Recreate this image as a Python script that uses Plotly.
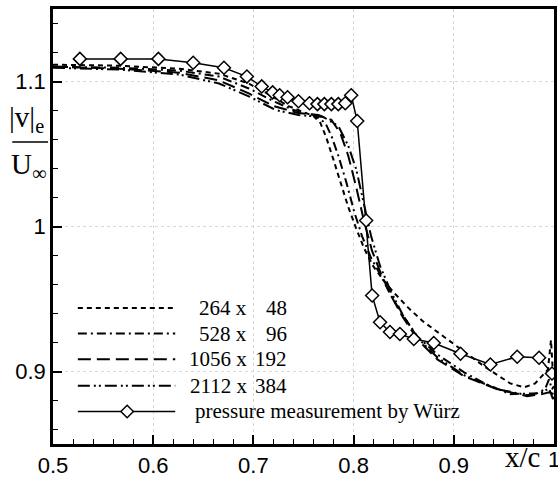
import plotly.graph_objects as go

# ---------------- data ----------------
x_264 = [0.5, 0.5665, 0.6260, 0.6657, 0.6954, 0.7153, 0.7351, 0.7500, 0.7599, 0.7669, 0.7728, 0.7798,
         0.7867, 0.7946, 0.8026, 0.8105, 0.8194, 0.8294, 0.8393, 0.8542, 0.8690, 0.8839, 0.9038, 0.9306,
         0.9563, 0.9702, 0.9812, 0.9891, 0.9940, 0.9970, 0.9990, 1.0]
y_264 = [1.1116, 1.1109, 1.1088, 1.1054, 1.0986, 1.0912, 1.0830, 1.0789, 1.0762, 1.0714, 1.0612, 1.0463,
         1.0306, 1.0136, 0.9986, 0.9850, 0.9728, 0.9633, 0.9551, 0.9442, 0.9347, 0.9272, 0.9170, 0.9034,
         0.8918, 0.8891, 0.8918, 0.8973, 0.9014, 0.9218, 0.8980, 0.8993]

x_528 = [0.5, 0.5665, 0.6260, 0.6657, 0.6954, 0.7202, 0.7401, 0.7599, 0.7718, 0.7778, 0.7847, 0.7927,
         0.8006, 0.8085, 0.8175, 0.8274, 0.8373, 0.8492, 0.8641, 0.8839, 0.9107, 0.9306, 0.9563, 0.9831,
         0.9911, 0.9950, 0.9980, 1.0]
y_528 = [1.1102, 1.1095, 1.1075, 1.1034, 1.0952, 1.0864, 1.0803, 1.0769, 1.0714, 1.0626, 1.0490, 1.0306,
         1.0102, 0.9932, 0.9782, 0.9660, 0.9524, 0.9388, 0.9238, 0.9116, 0.8993, 0.8918, 0.8844, 0.8850,
         0.8878, 0.8946, 0.8878, 0.8898]

x_1056 = [0.5, 0.5665, 0.6260, 0.6657, 0.6954, 0.7202, 0.7450, 0.7649, 0.7778, 0.7867, 0.7946, 0.8026,
          0.8105, 0.8185, 0.8274, 0.8373, 0.8492, 0.8641, 0.8839, 0.9107, 0.9435, 0.9732, 0.9881, 0.9950, 1.0]
y_1056 = [1.1102, 1.1088, 1.1061, 1.1007, 1.0918, 1.0830, 1.0782, 1.0769, 1.0735, 1.0646, 1.0490, 1.0272,
          1.0034, 0.9830, 0.9673, 0.9524, 0.9374, 0.9218, 0.9082, 0.8966, 0.8878, 0.8830, 0.8844, 0.8857, 0.8844]

x_2112 = [0.5, 0.5665, 0.6260, 0.6657, 0.6954, 0.7222, 0.7450, 0.7698, 0.7847, 0.7946, 0.8026, 0.8095,
          0.8175, 0.8264, 0.8373, 0.8492, 0.8641, 0.8839, 0.9107, 0.9435, 0.9732, 0.9881, 0.9950, 0.9990, 1.0]
y_2112 = [1.1095, 1.1082, 1.1048, 1.0986, 1.0898, 1.0803, 1.0769, 1.0755, 1.0694, 1.0558, 1.0395, 1.0170,
          0.9932, 0.9728, 0.9551, 0.9388, 0.9231, 0.9095, 0.8973, 0.8878, 0.8837, 0.8857, 0.8884, 0.8810, 0.8844]

x_exp = [0.5268, 0.5675, 0.6052, 0.6399, 0.6706, 0.6935, 0.7083, 0.7192, 0.7262, 0.7341, 0.7450, 0.7560,
         0.7639, 0.7708, 0.7778, 0.7847, 0.7917, 0.7976, 0.8036, 0.8125, 0.8185, 0.8264, 0.8363, 0.8462,
         0.8601, 0.8800, 0.9067, 0.9365, 0.9633, 0.9851, 0.9980]
y_exp = [1.1156, 1.1156, 1.1156, 1.1129, 1.1095, 1.1034, 1.0966, 1.0925, 1.0905, 1.0891, 1.0864, 1.0850,
         1.0844, 1.0844, 1.0844, 1.0844, 1.0850, 1.0905, 1.0728, 1.0041, 0.9524, 0.9340, 0.9272, 0.9259,
         0.9224, 0.9197, 0.9122, 0.9048, 0.9102, 0.9095, 0.8986]

grid_names = ["264 x", "528 x", "1056 x", "2112 x"]
grid_nums = ["48", "96", "192", "384"]
exp_label = "pressure measurement by Würz"
x_last_tick_label = "1"

# ---------------- styles ----------------
dashes = ["5px,4px", "9px,4px,2px,4px", "13px,6px", "12px,4px,2px,3px,2px,4px"]
SERIF = "Liberation Serif, Times New Roman, serif"
SANS = "Liberation Sans, Arial, sans-serif"
TICK_SIZE = 22
LEG_SIZE = 21

fig = go.Figure()
for xs, ys, d in zip([x_264, x_528, x_1056, x_2112], [y_264, y_528, y_1056, y_2112], dashes):
    fig.add_trace(go.Scatter(x=xs, y=ys, mode="lines", showlegend=False,
                             line=dict(color="black", width=2, dash=d)))
fig.add_trace(go.Scatter(x=x_exp, y=y_exp, mode="lines+markers", showlegend=False,
                         line=dict(color="black", width=1.5),
                         marker=dict(symbol="diamond", size=10, color="white",
                                     line=dict(color="black", width=1.5))))

axis_common = dict(ticks="inside", ticklen=9, tickwidth=1.5, tickcolor="black",
                   showline=True, linecolor="black", linewidth=2.5, mirror=True,
                   showgrid=True, gridcolor="#d8d8d8", griddash="dot", gridwidth=1,
                   zeroline=False, tickfont=dict(family=SANS, size=TICK_SIZE, color="black"))
fig.update_xaxes(range=[0.5, 1.0], dtick=0.1, tick0=0.5,
                 minor=dict(dtick=0.02, tick0=0.5, ticks="inside", ticklen=5, tickwidth=1.2,
                            tickcolor="black", showgrid=False), **axis_common)
fig.update_yaxes(range=[0.85, 1.15], dtick=0.1, tick0=0.9,
                 minor=dict(dtick=0.02, tick0=0.86, ticks="inside", ticklen=5, tickwidth=1.2,
                            tickcolor="black", showgrid=False), **axis_common)

# ---------------- legend (drawn manually) ----------------
shapes = []
annotations = []
leg_y = [0.3129, 0.254, 0.195, 0.1338, 0.0748]
lx0, lx1 = 0.0496, 0.244
for i in range(4):
    shapes.append(dict(type="line", xref="paper", yref="paper", x0=lx0, x1=lx1, y0=leg_y[i], y1=leg_y[i],
                       line=dict(color="black", width=2, dash=dashes[i])))
    annotations.append(dict(xref="paper", yref="paper", x=0.392, y=leg_y[i], text=grid_names[i],
                            showarrow=False, xanchor="right", yanchor="middle",
                            font=dict(family=SERIF, size=LEG_SIZE, color="black")))
    annotations.append(dict(xref="paper", yref="paper", x=0.472, y=leg_y[i], text=grid_nums[i],
                            showarrow=False, xanchor="right", yanchor="middle",
                            font=dict(family=SERIF, size=LEG_SIZE, color="black")))
shapes.append(dict(type="line", xref="paper", yref="paper", x0=lx0, x1=lx1, y0=leg_y[4], y1=leg_y[4],
                   line=dict(color="black", width=1.5)))
cx, cy, dx, dy = 0.148, leg_y[4], 0.0125, 0.0143
shapes.append(dict(type="path", xref="paper", yref="paper",
                   path=f"M{cx-dx},{cy} L{cx},{cy+dy} L{cx+dx},{cy} L{cx},{cy-dy} Z",
                   fillcolor="white", line=dict(color="black", width=1.5)))
annotations.append(dict(xref="paper", yref="paper", x=0.2798, y=leg_y[4], text=exp_label,
                        showarrow=False, xanchor="left", yanchor="middle",
                        font=dict(family=SERIF, size=LEG_SIZE, color="black")))

# ---------------- axis titles ----------------
annotations.append(dict(xref="paper", yref="paper", x=0.9365, y=-0.03, text="x/c", showarrow=False,
                        xanchor="center", yanchor="middle", font=dict(family=SERIF, size=29, color="black")))
annotations.append(dict(xref="paper", yref="paper", x=1.0, y=-0.036, text=x_last_tick_label, showarrow=False,
                        xanchor="center", yanchor="middle", font=dict(family=SANS, size=TICK_SIZE, color="black")))
annotations.append(dict(xref="paper", yref="paper", x=-0.052, y=0.748, text="|v|<sub>e</sub>", showarrow=False,
                        xanchor="center", yanchor="middle", font=dict(family=SERIF, size=29, color="black")))
annotations.append(dict(xref="paper", yref="paper", x=-0.048, y=0.638, text="U<sub>∞</sub>", showarrow=False,
                        xanchor="center", yanchor="middle", font=dict(family=SERIF, size=29, color="black")))
shapes.append(dict(type="line", xref="paper", yref="paper", x0=-0.0813, x1=-0.0099, y0=0.694, y1=0.694,
                   line=dict(color="black", width=1.5)))

fig.update_layout(width=558, height=479, margin=dict(l=53, r=1, t=9, b=29),
                  paper_bgcolor="white", plot_bgcolor="white",
                  shapes=shapes, annotations=annotations, showlegend=False)

fig.write_html("out.html")
